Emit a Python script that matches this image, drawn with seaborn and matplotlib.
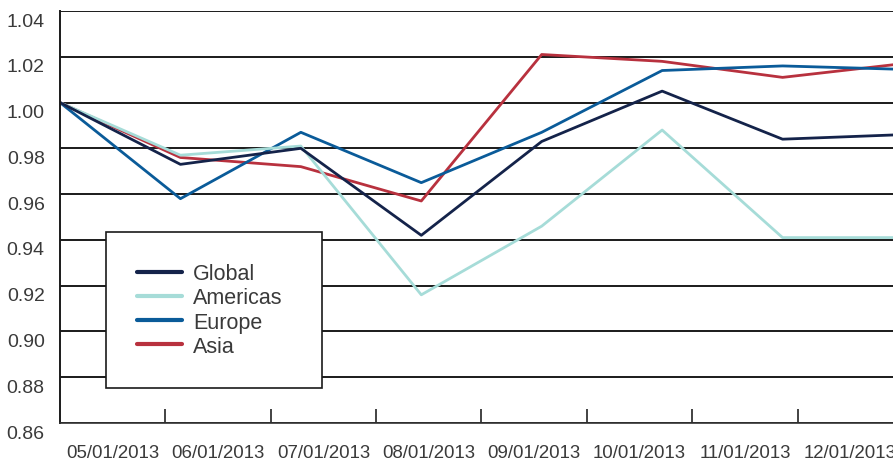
#! /usr/bin/python3
import matplotlib
matplotlib.use('Agg')
import matplotlib.pyplot as plt
import matplotlib.transforms as mtransforms
import numpy as np
import pandas as pd
import seaborn as sns

# data
months = ['05/01/2013', '06/01/2013', '07/01/2013', '08/01/2013',
          '09/01/2013', '10/01/2013', '11/01/2013', '12/01/2013']
global_vals = [1.000, 0.973, 0.980, 0.942, 0.983, 1.005, 0.984, 0.986]
americas_vals = [1.000, 0.977, 0.981, 0.916, 0.946, 0.988, 0.941, 0.941]
europe_vals = [1.000, 0.958, 0.987, 0.965, 0.987, 1.014, 1.016, 1.0145]
asia_vals = [1.000, 0.976, 0.972, 0.957, 1.021, 1.018, 1.011, 1.017]

series = ['Global', 'Americas', 'Europe', 'Asia']
colors = {'Global': '#14234a', 'Americas': '#a6dcd8',
          'Europe': '#0a5b99', 'Asia': '#b8313e'}

df = pd.DataFrame({
    'pos': np.tile(np.arange(len(months)), len(series)),
    'value': global_vals + americas_vals + europe_vals + asia_vals,
    'region': np.repeat(series, len(months)),
})

sns.set_style('white')
plt.rcParams['font.family'] = ['Liberation Sans', 'DejaVu Sans']
text_color = '#3a3a3a'

fig = plt.figure(figsize=(8.93, 4.64), dpi=100)
ax = fig.add_axes([60 / 893, 1 - 424 / 464, 843 / 893, 412 / 464])

# draw last series first so the earlier ones sit on top
for region in reversed(series):
    sub = df[df['region'] == region]
    sns.lineplot(data=sub, x='pos', y='value', ax=ax, color=colors[region],
                 linewidth=2.0, label=region)

n = len(months)
ax.set_xlim(0, n - 1)
ax.set_ylim(0.86, 1.04)
ax.set_xlabel('')
ax.set_ylabel('')

# category boundaries as ticks, month labels centred between them
step = (n - 1) / n
ax.set_xticks([k * step for k in range(1, n)])
ax.set_xticklabels([])
ax.set_xticks([(k + 0.5) * step for k in range(n)], minor=True)
ax.set_xticklabels(months, minor=True, fontsize=13.4, color=text_color)
ax.tick_params(axis='x', which='major', direction='in', length=10,
               width=1.2, color='#222222', bottom=True)
ax.tick_params(axis='x', which='minor', length=0, pad=15)

yticks = np.round(np.arange(0.86, 1.0401, 0.02), 2)
ax.set_yticks(yticks)
ax.set_yticklabels([f'{v:.2f}' for v in yticks], fontsize=14, color=text_color)
ax.tick_params(axis='y', length=0, pad=11)
offset = mtransforms.ScaledTranslation(0, -8 / 100, fig.dpi_scale_trans)
for lbl in ax.get_yticklabels():
    lbl.set_transform(lbl.get_transform() + offset)

ax.grid(axis='y', color='#1a1a1a', linewidth=1.4)
ax.grid(axis='x', visible=False)
for side in ['top', 'right']:
    ax.spines[side].set_visible(False)
ax.spines['left'].set_color('#1a1a1a')
ax.spines['left'].set_linewidth(1.4)
ax.spines['bottom'].set_color('#333333')
ax.spines['bottom'].set_linewidth(1.2)

# legend in the original order, box stretched to the reference width
handles, labels = ax.get_legend_handles_labels()
order = [labels.index(s) for s in series]
leg = ax.legend([handles[i] for i in order], [labels[i] for i in order],
                loc='upper left',
                bbox_to_anchor=(106 / 893, 1 - 384 / 464, 216 / 893, 151 / 464),
                bbox_transform=fig.transFigure, borderaxespad=0, mode='expand',
                fontsize=15.5, frameon=True, fancybox=False, framealpha=1,
                borderpad=1.45, labelspacing=0.15, handlelength=2.1,
                handletextpad=0.5)
leg.get_frame().set_edgecolor('#1a1a1a')
leg.get_frame().set_linewidth(1.2)
for t in leg.get_texts():
    t.set_color(text_color)
for h in leg.get_lines():
    h.set_linewidth(3)

plt.savefig('out.png', dpi=100)
